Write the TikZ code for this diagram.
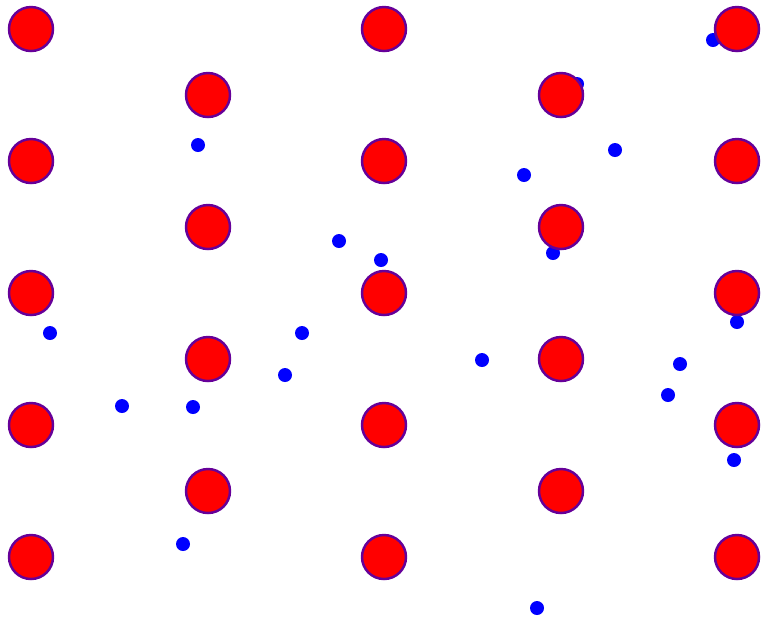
\documentclass[tikz,border=0pt]{standalone}
\usepackage{tikz}

\begin{document}
\begin{tikzpicture}[
    x=0.01cm, y=-0.01cm,
    ion/.style={fill=red, draw=blue!60!red, line width=0.7pt},
    electron/.style={fill=blue},
]
    \useasboundingbox (0,0) rectangle (761,620);

    % Free electrons (drawn first, ions sit on top)
    \foreach \ex/\ey in {713/40, 577/84, 198/145, 615/150, 524/175, 339/241,
        381/260, 553/253, 50/333, 302/333, 285/375, 482/360, 680/364,
        668/395, 737/322, 122/406, 193/407, 734/460, 183/544, 537/608}
        \fill[electron] (\ex,\ey) circle (7);

    % Ion lattice: outer columns
    \foreach \cx in {31, 384, 737}
        \foreach \cy in {29, 161, 293, 425, 557}
            \filldraw[ion] (\cx,\cy) circle (22);

    % Ion lattice: inner columns
    \foreach \cx in {208, 561}
        \foreach \cy in {95, 227, 359, 491}
            \filldraw[ion] (\cx,\cy) circle (22);

\end{tikzpicture}
\end{document}
